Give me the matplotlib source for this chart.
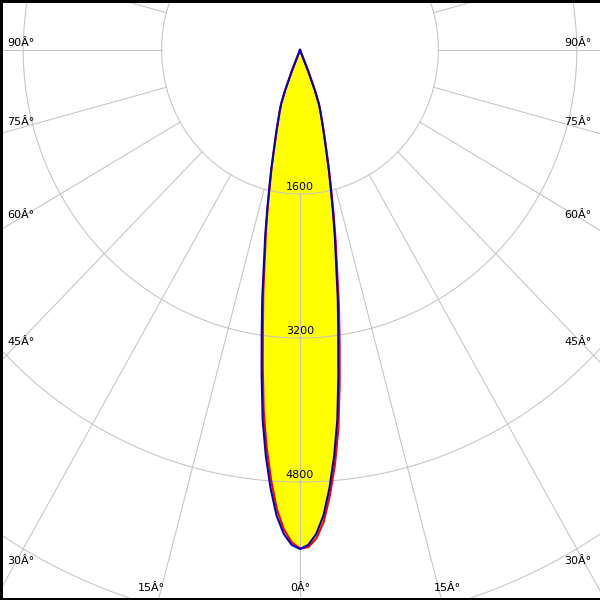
import numpy as np
import matplotlib
matplotlib.use("Agg")
import matplotlib.pyplot as plt

# ===== DATA (cd) =====
gamma = [0, 1, 2, 3, 4, 5, 6, 7, 8, 9, 10, 11, 12, 13, 14, 15, 16, 17, 18, 19, 20, 21, 22, 23]
c90_c270 = [5544, 5500, 5380, 5180, 4880, 4530, 4130, 3640, 3180, 2790, 2400, 2110, 1830,
            1580, 1380, 1190, 1040, 920, 810, 725, 640, 480, 250, 0]
c0 = [5540, 5525, 5430, 5250, 4960, 4630, 4240, 3760, 3290, 2880, 2470, 2160, 1870,
      1610, 1400, 1210, 1055, 930, 820, 730, 645, 485, 255, 0]
c180 = [5540, 5470, 5330, 5110, 4790, 4430, 4020, 3530, 3080, 2710, 2340, 2070, 1800,
        1560, 1365, 1180, 1030, 912, 805, 720, 635, 475, 245, 0]

rings = [1600, 3200, 4800, 6400]
ring_labels = ["1600", "3200", "4800"]
spoke_angles = list(range(0, 181, 15))

# ===== HELPERS =====
def to_xy(ang_deg, r):
    a = np.radians(np.asarray(ang_deg, dtype=float))
    r = np.asarray(r, dtype=float)
    return r * np.sin(a), -r * np.cos(a)

def curve(left, right):
    ang = [-g for g in gamma[::-1]] + gamma[1:]
    val = left[::-1] + right[1:]
    return to_xy(ang, val)

# ===== FIGURE =====
fig = plt.figure(figsize=(6, 6), dpi=100)
ax = fig.add_axes([0, 0, 1, 1])
sx, sy = 0.0865, 0.09  # px per cd
ax.set_xlim(-300 / sx, 300 / sx)
ax.set_ylim(-550 / sy, 50 / sy)
ax.set_aspect("auto")
ax.set_xticks([])
ax.set_yticks([])
for side in ["left", "top", "bottom"]:
    ax.spines[side].set_linewidth(3.6)
    ax.spines[side].set_color("black")
ax.spines["right"].set_visible(False)

# fill
xb, yb = curve(c90_c270, c90_c270)
xr, yr = curve(c180, c0)
ax.fill(xb, yb, color="#ffff00", lw=0, zorder=1)
ax.fill(xr, yr, color="#ffff00", lw=0, zorder=1)

# grid
grid_col = "#c4c4c4"
t = np.linspace(0, 360, 721)
for r in rings:
    gx, gy = to_xy(t, np.full_like(t, r))
    ax.plot(gx, gy, color=grid_col, lw=0.75, zorder=2)
for a in spoke_angles:
    for s in (1, -1):
        gx, gy = to_xy([s * a, s * a], [rings[0], 12000])
        ax.plot(gx, gy, color=grid_col, lw=0.75, zorder=2)

for r, lab in zip(rings, ring_labels):
    ax.annotate(lab, (0, -r), xytext=(0, 1.5), textcoords="offset points",
                ha="center", va="bottom", fontsize=8, zorder=3)

# curves
ax.plot(xr, yr, color="#ff0000", lw=1.5, zorder=4)
ax.plot(xb, yb, color="#0000cc", lw=1.5, zorder=5)

# angle labels (pixel positions)
left_pos = {"90Â°": 43, "75Â°": 122, "60Â°": 215, "45Â°": 342, "30Â°": 561}
for lab, py in left_pos.items():
    for px in (21, 578):
        ax.text(px / 600, 1 - py / 600, lab, transform=ax.transAxes,
                ha="center", va="center", fontsize=8)
for lab, px in [("15Â°", 151), ("0Â°", 300), ("15Â°", 447)]:
    ax.text(px / 600, 1 - 588 / 600, lab, transform=ax.transAxes,
            ha="center", va="center", fontsize=8)

fig.savefig("out.png", dpi=100)
